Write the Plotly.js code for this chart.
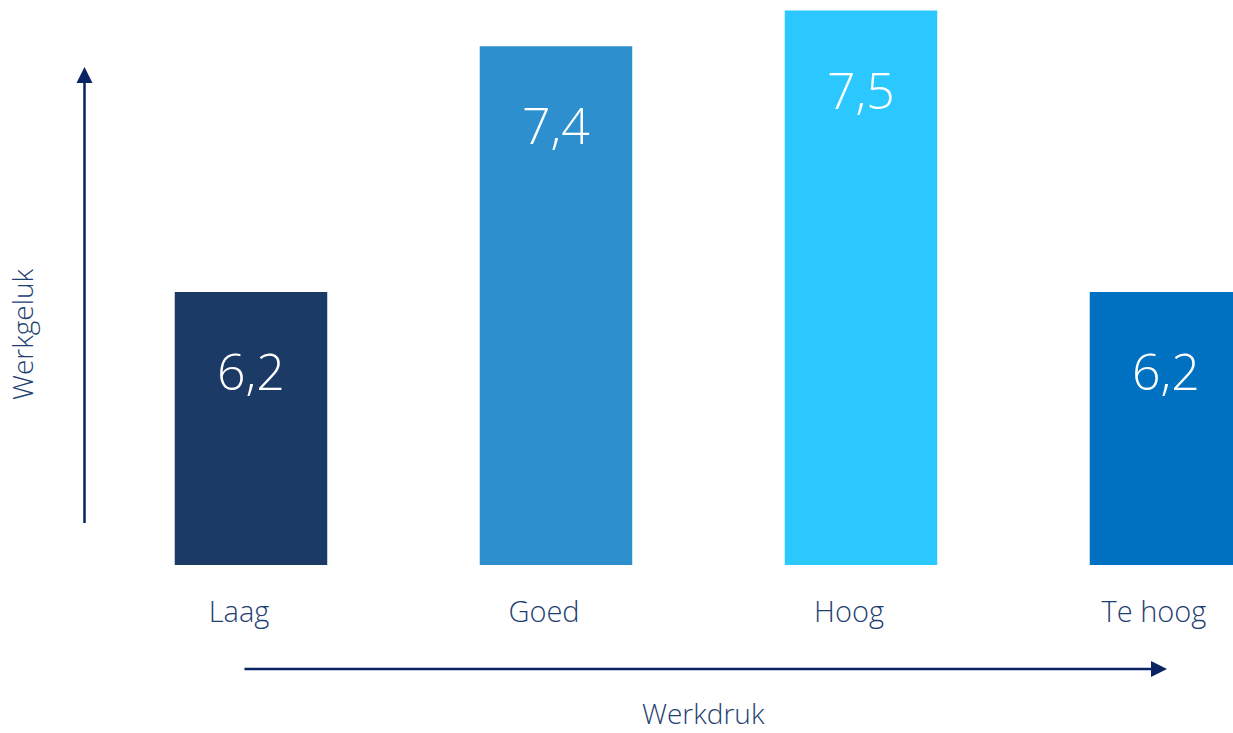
<!DOCTYPE html>
<html>
<head>
<meta charset="utf-8">
<script src="https://cdn.plot.ly/plotly-3.0.1.min.js"></script>
<style>html,body{margin:0;padding:0;background:#fff;}#chart{width:1233px;height:733px;}</style>
</head>
<body>
<div id="chart"></div>
<script>
// Data
var categories = ['Laag', 'Goed', 'Hoog', 'Te hoog'];
var werkgeluk = [6.2, 7.37, 7.54, 6.2];
var barColors = ['#1b3a65', '#2d8fcd', '#2ac8fe', '#0070c0'];
var xTitle = 'Werkdruk';
var yTitle = 'Werkgeluk';

var textColor = '#1f3f73';
var arrowColor = '#0a2463';
var FONT = '"Open Sans", "Noto Sans", sans-serif';

var trace = {
  type: 'bar',
  x: categories,
  y: werkgeluk,
  marker: {color: barColors, line: {width: 0}},
  hoverinfo: 'skip',
  showlegend: false
};

// value labels inside bars
var annotations = categories.map(function (c, i) {
  return {
    x: c, y: werkgeluk[i], xref: 'x', yref: 'y',
    xanchor: 'center', yanchor: 'middle', yshift: -79,
    text: werkgeluk[i].toFixed(1).replace('.', ','),
    showarrow: false,
    font: {family: FONT, size: 50, color: '#ffffff', weight: 300}
  };
});

// axis arrows
annotations.push({
  xref: 'paper', yref: 'paper', x: -0.01189, y: 0.88142,
  axref: 'pixel', ayref: 'pixel', ax: 0, ay: 458,
  text: ' ', font: {size: 1},
  showarrow: true, arrowhead: 2, arrowsize: 1.28, arrowwidth: 2.5,
  arrowcolor: arrowColor, standoff: 0, startstandoff: 0
});
annotations.push({
  xref: 'paper', yref: 'paper', x: 0.94185, y: -0.18407,
  axref: 'pixel', ayref: 'pixel', ax: -924, ay: 0,
  text: ' ', font: {size: 1},
  showarrow: true, arrowhead: 2, arrowsize: 1.28, arrowwidth: 2.5,
  arrowcolor: arrowColor, standoff: 0, startstandoff: 0
});
// axis titles
annotations.push({
  xref: 'paper', yref: 'paper', x: -0.06696, y: 0.40885,
  xanchor: 'center', yanchor: 'middle', textangle: -90,
  text: yTitle, showarrow: false,
  font: {family: FONT, size: 28, color: textColor, weight: 300}
});
annotations.push({
  xref: 'paper', yref: 'paper', x: 0.53392, y: -0.2620,
  xanchor: 'center', yanchor: 'middle', borderpad: 0,
  text: xTitle, showarrow: false,
  font: {family: FONT, size: 28, color: textColor, weight: 300}
});

var layout = {
  width: 1233, height: 733,
  margin: {l: 98, r: 0, t: 0, b: 168, pad: 0},
  paper_bgcolor: '#ffffff', plot_bgcolor: '#ffffff',
  bargap: 0.5,
  separators: ',.',
  xaxis: {
    type: 'category',
    range: [-0.5016, 3.2197],
    showgrid: false, zeroline: false, showline: false, ticks: '',
    ticklabelshift: -12, ticklabelstandoff: 27,
    tickfont: {family: FONT, size: 29, color: textColor, weight: 300},
    fixedrange: true
  },
  yaxis: {
    range: [4.9, 7.59],
    showgrid: false, zeroline: false, showline: false, ticks: '',
    showticklabels: false, fixedrange: true
  },
  annotations: annotations,
  showlegend: false
};

Plotly.newPlot('chart', [trace], layout, {displayModeBar: false, staticPlot: true});
</script>
</body>
</html>
